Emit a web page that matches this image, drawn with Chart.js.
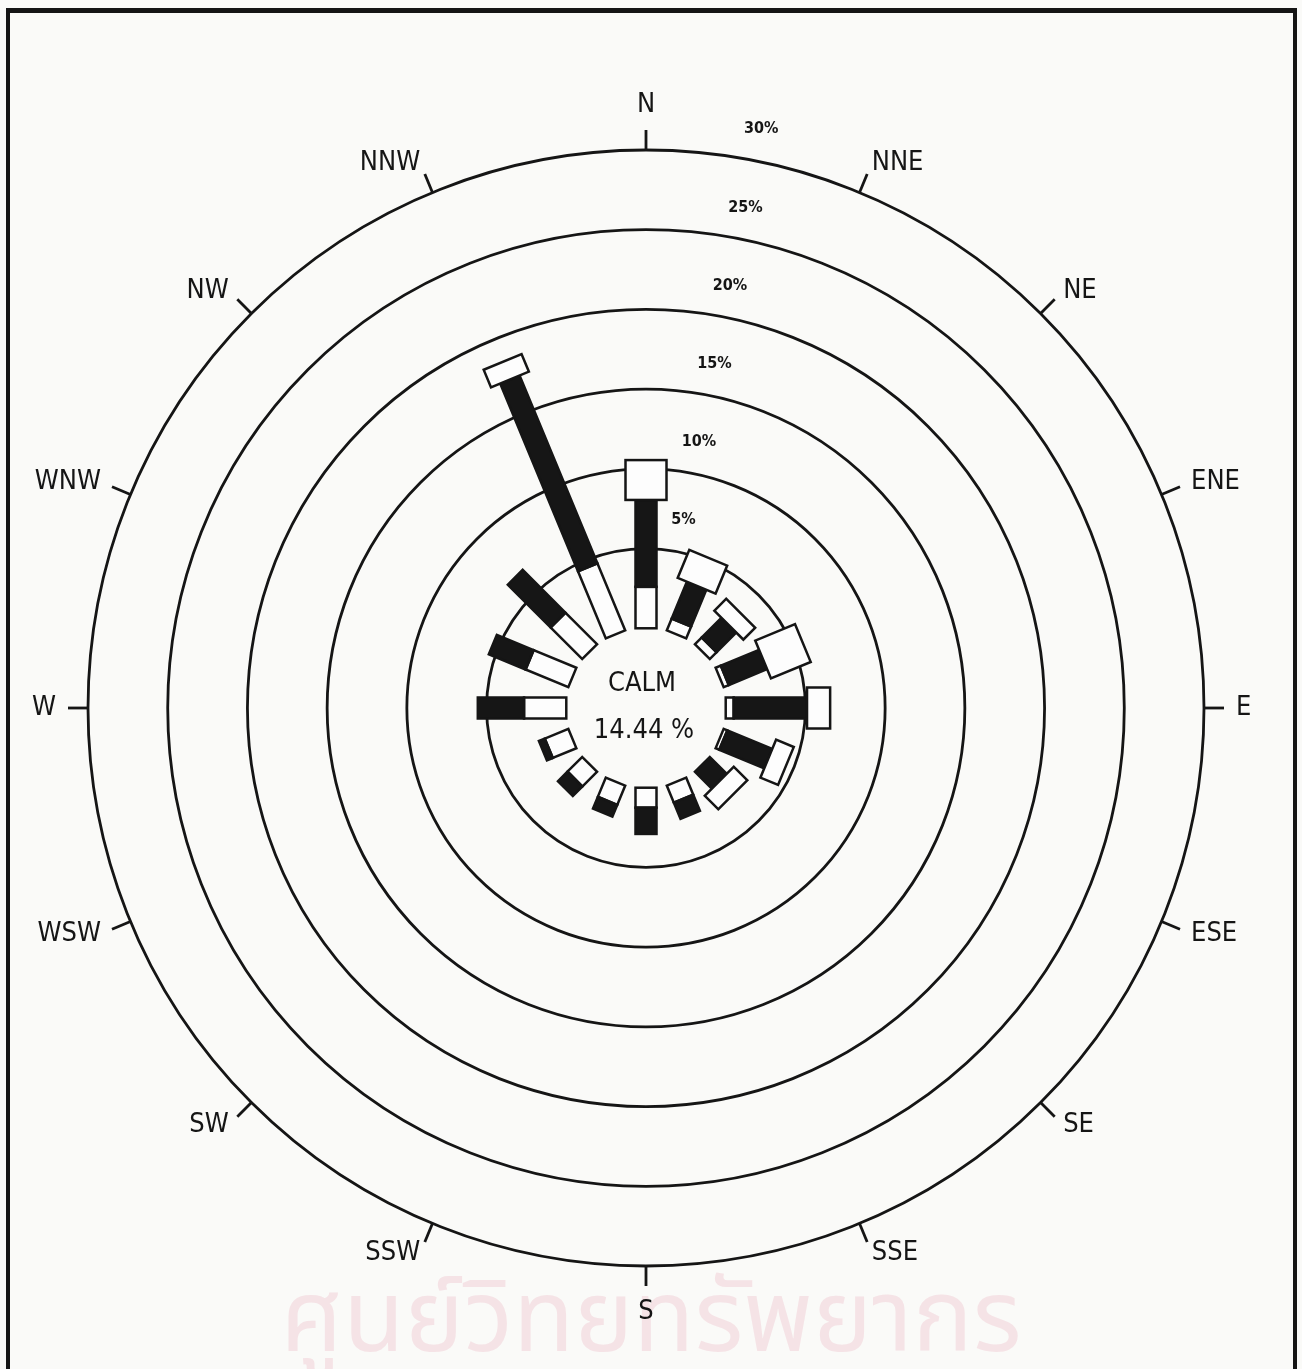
<!DOCTYPE html>
<html>
<head>
<meta charset="utf-8">
<title>Wind rose</title>
<script src="https://cdn.jsdelivr.net/npm/chart.js@4.4.1/dist/chart.umd.min.js"></script>
<style>
  html, body { margin: 0; padding: 0; background: #fafaf8; }
  #wrap { position: relative; width: 1302px; height: 1369px; overflow: hidden; }
  #frame { position: absolute; left: 6px; top: 8px; width: 1283px; height: 1420px;
           border-left: 4px solid #151515; border-top: 5px solid #151515; border-right: 4px solid #151515; }
  #mark { position: absolute; left: 0; width: 1302px; top: 1245px; text-align: center;
          font: 100px "Noto Sans Thai", "Loma", "Garuda", "Noto Sans", sans-serif; color: #f5e3e6; }
  #mycanvas { position: absolute; left: 0; top: 0; }
</style>
</head>
<body>
<div id="wrap">
  <div id="frame"></div>
  <div id="mark">ศูนย์วิทยทรัพยากร</div>
  <canvas id="mycanvas" width="1302" height="1369"></canvas>
</div>
<script>
// wind directions, clockwise from north
var directions = ['N', 'NNE', 'NE', 'ENE', 'E', 'ESE', 'SE', 'SSE',
                  'S', 'SSW', 'SW', 'WSW', 'W', 'WNW', 'NW', 'NNW'];
// percent of time per speed class (stacked outwards)
var lowSpeed  = [2.6, 0.8, 0.6, 0.35, 0.5, 0.25, 0, 1.15, 1.25, 1.3, 1.3, 1.6, 2.65, 2.9, 2.8, 4.55];
var midSpeed  = [5.45, 2.5, 1.75, 2.6, 4.6, 3.05, 1.5, 1.1, 1.65, 0.8, 0.85, 0.4, 2.9, 2.5, 3.8, 12.75];
var highSpeed = [2.5, 1.9, 1.05, 2.7, 1.45, 1.2, 1.2, 0, 0, 0, 0, 0, 0, 0, 0, 1.2];
var ringTicks = [5, 10, 15, 20, 25, 30];
var calmPercent = 14.44;

var LABEL_FONT = '"Liberation Sans Narrow", "DejaVu Sans Condensed", "Liberation Sans", sans-serif';
var INK = '#151515';

var roseBars = {
  id: 'roseBars',
  afterDatasetsDraw: function(chart) {
    var scale = chart.scales.r;
    var ctx = chart.ctx;
    var R = scale.drawingArea;

    // direction ticks + labels
    ctx.save();
    ctx.strokeStyle = INK;
    ctx.lineWidth = 2.8;
    ctx.fillStyle = INK;
    ctx.font = '27px ' + LABEL_FONT;
    directions.forEach(function(name, i) {
      var p1 = scale.getPointPosition(i, R);
      var p2 = scale.getPointPosition(i, R + 20);
      ctx.beginPath();
      ctx.moveTo(p1.x, p1.y);
      ctx.lineTo(p2.x, p2.y);
      ctx.stroke();

      var deg = Math.round(scale.getIndexAngle(i) * 180 / Math.PI);
      var pl = scale.getPointPosition(i, R + 32);
      if (deg === 0) { ctx.textAlign = 'center'; ctx.textBaseline = 'bottom'; }
      else if (deg === 180) { ctx.textAlign = 'center'; ctx.textBaseline = 'top'; }
      else if (deg < 180) { ctx.textAlign = 'left'; ctx.textBaseline = 'middle'; }
      else { ctx.textAlign = 'right'; ctx.textBaseline = 'middle'; }
      ctx.fillText(name, pl.x, pl.y);
    });

    // ring labels, half a sector right of north
    ctx.font = 'bold 16px ' + LABEL_FONT;
    ctx.textAlign = 'center';
    ctx.textBaseline = 'middle';
    ringTicks.forEach(function(v) {
      var p = scale.getPointPosition(0, scale.getDistanceFromCenterForValue(v) + 32, Math.PI / 16);
      ctx.fillText(v + '%', p.x, p.y);
    });

    // calm in the middle
    ctx.font = '27px ' + LABEL_FONT;
    ctx.fillText('CALM', scale.xCenter - 4, scale.yCenter - 24);
    ctx.fillText(calmPercent.toFixed(2) + ' %', scale.xCenter - 2, scale.yCenter + 23);
    ctx.restore();

    // stacked bars
    directions.forEach(function(name, i) {
      var a = scale.getIndexAngle(i);
      var start = 0;
      chart.data.datasets.forEach(function(ds) {
        var v = ds.data[i];
        if (!v) return;
        var r1 = scale.getDistanceFromCenterForValue(start);
        var r2 = scale.getDistanceFromCenterForValue(start + v);
        start += v;
        var w = ds.barWidth;
        ctx.save();
        ctx.translate(scale.xCenter, scale.yCenter);
        ctx.rotate(a);
        ctx.fillStyle = ds.barColor;
        ctx.fillRect(-w / 2, -r2, w, r2 - r1);
        ctx.lineWidth = 2.5;
        ctx.strokeStyle = INK;
        ctx.strokeRect(-w / 2, -r2, w, r2 - r1);
        ctx.restore();
      });
    });
  }
};

function hiddenSeries(label, values, width, color) {
  return {
    label: label, data: values, barWidth: width, barColor: color,
    fill: false, showLine: false, borderWidth: 0, pointRadius: 0, pointHoverRadius: 0,
    borderColor: 'rgba(0,0,0,0)', backgroundColor: 'rgba(0,0,0,0)'
  };
}

var chartdata = {
  labels: directions,
  datasets: [
    hiddenSeries('low', lowSpeed, 21, '#fdfdfd'),
    hiddenSeries('mid', midSpeed, 21, '#161616'),
    hiddenSeries('high', highSpeed, 41, '#fdfdfd')
  ]
};

var ctx = document.getElementById('mycanvas');
var roseChart = new Chart(ctx, {
  type: 'radar',
  data: chartdata,
  plugins: [roseBars],
  options: {
    responsive: false,
    animation: false,
    devicePixelRatio: 1,
    layout: { padding: { left: 88, right: 98, top: 150, bottom: 103 } },
    plugins: { legend: { display: false }, tooltip: { enabled: false } },
    scales: {
      r: {
        min: -5,
        max: 30,
        ticks: { stepSize: 5, display: false },
        grid: {
          circular: true,
          lineWidth: 2.8,
          color: function(c) { return c.tick && c.tick.value > 0 ? INK : 'rgba(0,0,0,0)'; }
        },
        angleLines: { display: false },
        pointLabels: { display: false }
      }
    }
  }
});
</script>
</body>
</html>
